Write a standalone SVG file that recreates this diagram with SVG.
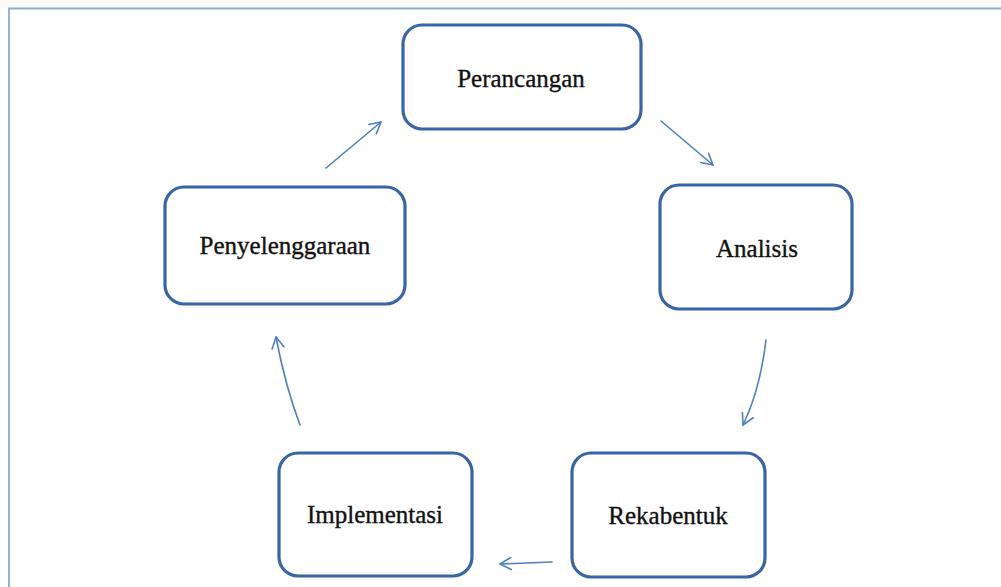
<svg xmlns="http://www.w3.org/2000/svg" width="1001" height="587" viewBox="0 0 1001 587">
  <style>
    .box { fill: #ffffff; stroke: #3765a6; stroke-width: 3.2; }
    .lbl { font-family: "Liberation Serif", "Times New Roman", serif; font-size: 25px; fill: #111111; stroke: #111111; stroke-width: 0.35; text-anchor: middle; }
    .conn { fill: none; stroke: #4f7fc0; stroke-width: 1.6; stroke-linecap: round; }
  </style>
  <defs>
    <marker id="open" viewBox="0 0 14 14" refX="12" refY="7" markerWidth="14" markerHeight="14" markerUnits="userSpaceOnUse" orient="auto">
      <path d="M1,1 L12,7 L1,13" fill="none" stroke="#4f7fc0" stroke-width="1.6" stroke-linecap="round" stroke-linejoin="round"/>
    </marker>
  </defs>
  <rect x="0" y="0" width="1001" height="587" fill="#ffffff"/>
  <rect x="0" y="0" width="1001" height="8" fill="#fcfaf6"/>
  <path d="M9,587 L9,8.5 L1001,8.5" fill="none" stroke="#8eaad0" stroke-width="1.8"/>

  <g id="connectors">
    <path class="conn" d="M326,168 L381,122" marker-end="url(#open)"/>
    <path class="conn" d="M661,121 L713,165" marker-end="url(#open)"/>
    <path class="conn" d="M766,340 Q760,390 743,425" marker-end="url(#open)"/>
    <path class="conn" d="M552,562 Q525,563 500,564" marker-end="url(#open)"/>
    <path class="conn" d="M300,425 Q285,385 276,337" marker-end="url(#open)"/>
  </g>

  <g id="perancangan">
    <rect class="box" x="403" y="25" width="238" height="104" rx="19"/>
    <text class="lbl" x="521" y="87">Perancangan</text>
  </g>
  <g id="penyelenggaraan">
    <rect class="box" x="165" y="187" width="240" height="117" rx="19"/>
    <text class="lbl" x="285" y="254">Penyelenggaraan</text>
  </g>
  <g id="analisis">
    <rect class="box" x="660" y="185" width="192" height="124" rx="19"/>
    <text class="lbl" x="757" y="257">Analisis</text>
  </g>
  <g id="implementasi">
    <rect class="box" x="279" y="453" width="193" height="123" rx="19"/>
    <text class="lbl" x="375" y="523">Implementasi</text>
  </g>
  <g id="rekabentuk">
    <rect class="box" x="572" y="453" width="193" height="124" rx="19"/>
    <text class="lbl" x="668" y="524">Rekabentuk</text>
  </g>
</svg>
